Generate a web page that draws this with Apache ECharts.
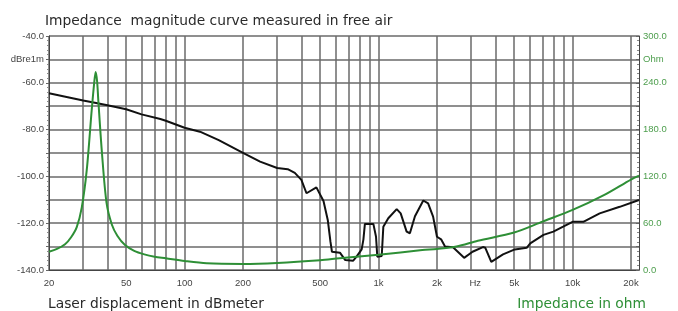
<!DOCTYPE html>
<html>
<head>
<meta charset="utf-8">
<script src="https://cdn.jsdelivr.net/npm/echarts@6/dist/echarts.min.js"></script>
<style>
  html, body { margin: 0; padding: 0; background: #fff; }
  #chart { width: 678px; height: 311px; }
</style>
</head>
<body>
<div id="chart"></div>
<script>
// laser displacement (dB re 1 m) against frequency in Hz
var dispFreq = [20, 25, 30, 35, 40, 50, 60, 75, 80, 100, 120, 150, 200, 245, 300, 340, 370, 400, 425, 478, 520, 547, 565, 575, 632, 672, 740, 770, 818, 835, 850, 940, 970, 985, 1038, 1058, 1122, 1240, 1300, 1395, 1450, 1540, 1700, 1800, 1910, 2000, 2100, 2200, 2420, 2760, 3050, 3450, 3550, 3810, 4380, 5040, 5800, 6050, 7080, 7960, 8940, 10000, 11360, 13800, 17500, 22000];
var dispDb = [-64.5, -66.2, -67.6, -68.6, -69.6, -71.3, -73.5, -75.5, -76.2, -79.2, -80.9, -84.5, -89.9, -93.7, -96.4, -96.9, -98.5, -101.5, -107.2, -104.7, -110.5, -118.6, -128, -132.2, -132.6, -135.7, -136, -134.3, -131.2, -127, -120.3, -120.3, -125.8, -134.3, -134, -121.5, -117.9, -114, -115.8, -123.6, -124.3, -117, -110.3, -111.5, -117.2, -125.8, -126.9, -130, -130.3, -134.8, -132.2, -130.2, -130.5, -136.5, -133.3, -131.2, -130.5, -128.6, -125, -123.6, -121.5, -119.4, -119.4, -115.8, -113, -110.1];

// impedance magnitude (ohm)
var impFreq = [20, 22, 24.2, 26, 27.8, 29.5, 31.3, 33.2, 34.2, 34.8, 35.4, 35.9, 37.5, 39.6, 42.2, 45, 49.3, 55, 62, 70, 80, 100, 130, 200, 300, 500, 630, 1000, 1680, 2000, 2520, 3250, 5000, 7000, 10000, 14500, 20000, 22000];
var impOhm = [23.5, 27, 33, 42, 55, 80, 128, 205, 240, 254, 242, 218, 150, 86, 58, 44, 32, 24.5, 20, 17, 15, 11.5, 8.5, 7.7, 9, 12.5, 15, 19.5, 25.5, 27, 30, 37.5, 48, 62, 77, 96, 116, 121];

// vertical grid lines and frequency labels
var gridFreqs = [20, 30, 40, 50, 60, 70, 80, 90, 100, 200, 300, 400, 500, 600, 700, 800, 900, 1000, 2000, 3000, 4000, 5000, 6000, 7000, 8000, 9000, 10000, 20000];
var labelFreqs = [20, 50, 100, 200, 500, 1000, 2000, 3150, 5000, 10000, 20000];
var labelTexts = ['20', '50', '100', '200', '500', '1k', '2k', 'Hz', '5k', '10k', '20k'];

var GREEN = '#2e8f36';
var chart = echarts.init(document.getElementById('chart'));

function pairs(xs, ys) {
  return xs.map(function (x, i) { return [x, ys[i]]; });
}

chart.setOption({
  animation: false,
  title: [{
    text: 'Impedance  magnitude curve measured in free air',
    left: 40, top: 9,
    textStyle: { fontSize: 13.8, fontWeight: 'normal', color: '#2a2a2a', fontFamily: 'DejaVu Sans' }
  }, {
    text: 'Laser displacement in dBmeter',
    left: 43, top: 292,
    textStyle: { fontSize: 13.8, fontWeight: 'normal', color: '#2a2a2a', fontFamily: 'DejaVu Sans' }
  }, {
    text: 'Impedance in ohm',
    right: 27, top: 292,
    textStyle: { fontSize: 13.8, fontWeight: 'normal', color: GREEN, fontFamily: 'DejaVu Sans' }
  }],
  grid: { left: 49, right: 39, top: 36, bottom: 41, outerBoundsMode: 'none', containLabel: false },
  xAxis: {
    type: 'log', logBase: 10, min: 20, max: 22000,
    axisLine: { show: true, lineStyle: { color: '#444', width: 1 } },
    axisTick: { show: false, customValues: gridFreqs },
    axisLabel: {
      customValues: labelFreqs,
      margin: 8,
      fontSize: 9.5, color: '#444', fontFamily: 'Liberation Sans',
      formatter: function (v) {
        var i = labelFreqs.indexOf(v);
        return i >= 0 ? labelTexts[i] : '';
      }
    },
    splitLine: { show: true, lineStyle: { color: '#6a6a6a', width: 1.5 } },
    minorTick: { show: false },
    minorSplitLine: { show: false }
  },
  yAxis: [{
    type: 'value', min: -140, max: -40, interval: 10,
    axisLine: { show: true, lineStyle: { color: '#444' } },
    axisTick: { show: true, length: 3, lineStyle: { color: '#666' } },
    minorTick: { show: true, splitNumber: 5, length: 2, lineStyle: { color: '#888' } },
    axisLabel: {
      fontSize: 9.5, color: '#444', fontFamily: 'Liberation Sans', margin: 5,
      formatter: function (v) {
        if (v === -50) return 'dBre1m';
        return v % 20 === 0 ? v.toFixed(1) : '';
      }
    },
    splitLine: { show: true, lineStyle: { color: '#6a6a6a', width: 1.5 } }
  }, {
    type: 'value', min: 0, max: 300, interval: 30, position: 'right',
    axisLine: { show: true, lineStyle: { color: '#444' } },
    axisTick: { show: true, inside: true, length: 3, lineStyle: { color: '#666' } },
    minorTick: { show: true, splitNumber: 5, length: 2, lineStyle: { color: '#888' } },
    axisLabel: {
      fontSize: 9.5, color: '#4d9e4d', fontFamily: 'Liberation Sans', margin: 4,
      formatter: function (v) {
        if (v === 270) return 'Ohm';
        return v % 60 === 0 ? v.toFixed(1) : '';
      }
    },
    splitLine: { show: false }
  }],
  series: [{
    name: 'Laser displacement',
    type: 'line',
    yAxisIndex: 0,
    data: pairs(dispFreq, dispDb),
    showSymbol: false,
    lineStyle: { color: '#111', width: 2 },
    z: 3
  }, {
    name: 'Impedance',
    type: 'line',
    yAxisIndex: 1,
    data: pairs(impFreq, impOhm),
    showSymbol: false,
    smooth: 0.3,
    lineStyle: { color: GREEN, width: 2 },
    z: 4
  }]
});
</script>
</body>
</html>
